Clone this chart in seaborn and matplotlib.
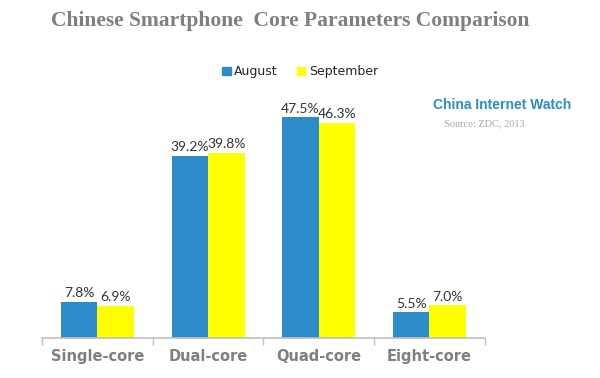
import pandas as pd
import matplotlib.pyplot as plt
import seaborn as sns

# dados
categories = ["Single-core", "Dual-core", "Quad-core", "Eight-core"]
august = [7.8, 39.2, 47.5, 5.5]
september = [6.9, 39.8, 46.3, 7.0]

df = pd.DataFrame({
    "core": categories * 2,
    "month": ["August"] * 4 + ["September"] * 4,
    "share": august + september,
})

sns.set_style("white")
plt.rcParams['font.family'] = ['DejaVu Sans']

fig = plt.figure(figsize=(6, 3.78), dpi=100)
ax = fig.add_axes([0.07, 0.106, 0.738, 0.629])

sns.barplot(data=df, x="core", y="share", hue="month",
            palette=["#2B8CC9", "#FFFF00"], width=0.66, saturation=1,
            linewidth=0, ax=ax, legend=False)

ax.set_ylim(0, 51.2)
ax.set_xlim(-0.5, 3.5)
for cont in ax.containers:
    ax.bar_label(cont, fmt="%.1f%%", padding=2, fontsize=10, color="#333333",
                 family="Lato")

ax.set_xlabel("")
ax.set_ylabel("")
ax.set_yticks([])
ax.tick_params(axis="x", which="major", length=0, pad=8)
for lab in ax.get_xticklabels():
    lab.set_fontweight("bold")
    lab.set_color("#7F7F7F")
    lab.set_fontsize(10.5)
ax.set_xticks([-0.5, 0.5, 1.5, 2.5, 3.5], minor=True)
ax.tick_params(axis="x", which="minor", bottom=True, length=5, color="#BFBFBF", width=1)
for s in ["top", "right", "left"]:
    ax.spines[s].set_visible(False)
ax.spines["bottom"].set_color("#BFBFBF")
ax.spines["bottom"].set_linewidth(1.2)

fig.text(0.483, 0.945, "Chinese Smartphone  Core Parameters Comparison",
         ha="center", va="center", fontsize=15.5, fontweight="bold",
         color="#7F7F7F", family="Liberation Serif")

# legenda
handles = [plt.Rectangle((0, 0), 1, 1, color=c) for c in ["#2B8CC9", "#FFFF00"]]
fig.legend(handles, ["August", "September"], loc="center", bbox_to_anchor=(0.5, 0.81),
           ncol=2, frameon=False, fontsize=9, handlelength=0.7, handleheight=0.7,
           handletextpad=0.3, columnspacing=1.5)

fig.text(0.837, 0.722, "China Internet Watch", ha="center", va="center",
         fontsize=10, fontweight="bold", color="#2B8CC9", family="Liberation Sans")
fig.text(0.808, 0.672, "Source: ZDC, 2013", ha="center", va="center",
         fontsize=7.5, color="#A6A6A6", family="Liberation Serif")

fig.savefig("out.png", dpi=100)
